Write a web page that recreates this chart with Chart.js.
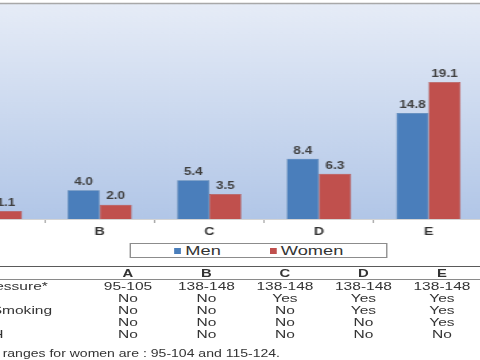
<!DOCTYPE html>
<html>
<head>
<meta charset="utf-8">
<script src="https://cdn.jsdelivr.net/npm/chart.js@4/dist/chart.umd.min.js"></script>
<style>
  html, body { margin: 0; padding: 0; background: #fff; width: 480px; height: 360px; overflow: hidden; }
  /* the source picture is stretched sideways, so the whole page is too */
  #stage { position: absolute; left: 0; top: 0; width: 356px; height: 360px;
           transform: scaleX(1.35); transform-origin: 0 0;
           font-family: "Liberation Sans", Arial, sans-serif; color: #333; }
  #wrap { position: absolute; left: -48.5px; top: 0; width: 406px; height: 241px; }
  #legend { position: absolute; left: 96.3px; top: 243px; width: 188.5px; height: 13px;
            border: 1px solid #8c8c8c; background: #fff;
            display: flex; justify-content: center; align-items: center; gap: 36px;
            font-size: 13.5px; line-height: 13px; color: #333; }
  #legend span.sw { display: inline-block; width: 5px; height: 6px; margin-right: 3.5px; vertical-align: 1px; }
  .rule { position: absolute; left: 0; width: 356px; }
  .cell { position: absolute; width: 56px; margin-left: -28px; text-align: center;
          font-size: 11.5px; line-height: 12px; white-space: nowrap; }
  .head { font-weight: bold; font-size: 11px; }
  .rowlabel { position: absolute; left: -47.7px; font-size: 11.5px; line-height: 12px; white-space: nowrap; }
  #note { position: absolute; right: 148.6px; top: 348px; font-size: 10.4px; line-height: 12px; white-space: nowrap; }
</style>
</head>
<body>
<div id="stage">
  <div id="wrap"><canvas id="chart" width="406" height="241"></canvas></div>
  <div id="legend"></div>
  <div id="table"></div>
  <div id="note"></div>
</div>
<script>
const categories = ["A", "B", "C", "D", "E"];
const menValues = [2.2, 4.0, 5.4, 8.4, 14.8];
const womenValues = [1.1, 2.0, 3.5, 6.3, 19.1];
const seriesNames = ["Men", "Women"];
const seriesColors = ["#4a7ebb", "#c0504d"];

const rowLabels = ["Blood Pressure*", "Diabetes", "Current Smoking", "Lipids", "ECG-LVH"];
const tableRows = [
    ["95-105", "138-148", "138-148", "138-148", "138-148"],
    ["No", "No", "Yes", "Yes", "Yes"],
    ["No", "No", "No", "Yes", "Yes"],
    ["No", "No", "No", "No", "Yes"],
    ["No", "No", "No", "No", "No"]
];
const footnote = "* Systolic blood pressure ranges for women are : 95-104 and 115-124.";

// gradient fill + top border of the plot area
const plotBackground = {
    id: "plotBackground",
    beforeDraw(chart) {
        const ctx = chart.ctx;
        const a = chart.chartArea;
        const g = ctx.createLinearGradient(0, a.top, 0, a.bottom);
        g.addColorStop(0, "#e6ecf7");
        g.addColorStop(1, "#b1c6e7");
        ctx.save();
        ctx.fillStyle = g;
        ctx.fillRect(a.left, a.top, a.right - a.left, a.bottom - a.top);
        ctx.strokeStyle = "#a8a8a8";
        ctx.lineWidth = 1.5;
        ctx.beginPath();
        ctx.moveTo(a.left, a.top - 0.5);
        ctx.lineTo(a.right, a.top - 0.5);
        ctx.stroke();
        ctx.restore();
    }
};

// value above every bar
const valueLabels = {
    id: "valueLabels",
    afterDatasetsDraw(chart) {
        const ctx = chart.ctx;
        ctx.save();
        ctx.font = 'bold 10px "Liberation Sans", Arial, sans-serif';
        ctx.fillStyle = "#404040";
        ctx.textAlign = "center";
        ctx.textBaseline = "bottom";
        chart.data.datasets.forEach((ds, i) => {
            chart.getDatasetMeta(i).data.forEach((bar, j) => {
                ctx.fillText(ds.data[j].toFixed(1), bar.x, bar.y - 3);
            });
        });
        ctx.restore();
    }
};

let chart;

function initChart() {
    const ctx = document.getElementById("chart").getContext("2d");

    chart = new Chart(ctx, {
        type: "bar",
        data: {
            labels: categories,
            datasets: [
                { label: seriesNames[0], data: menValues, backgroundColor: seriesColors[0],
                  borderColor: "#41709f", borderWidth: 0.5 },
                { label: seriesNames[1], data: womenValues, backgroundColor: seriesColors[1],
                  borderColor: "#a94642", borderWidth: 0.5 }
            ]
        },
        options: {
            responsive: false,
            animation: false,
            layout: { padding: { top: 4, left: 0, right: 0, bottom: 0 } },
            datasets: { bar: { categoryPercentage: 0.585, barPercentage: 1.0 } },
            plugins: { legend: { display: false }, tooltip: { enabled: false } },
            scales: {
                x: {
                    afterFit: (axis) => { axis.height = 22; },
                    border: { display: true, color: "#d4d4d4" },
                    grid: { offset: true, drawOnChartArea: false, tickLength: 4, color: "#a6a6a6" },
                    ticks: { padding: 3, color: "#333",
                             font: { family: '"Liberation Sans", Arial, sans-serif', size: 10.5, weight: "bold" } }
                },
                y: { display: false, min: 0, max: 30 }
            }
        },
        plugins: [plotBackground, valueLabels]
    });
}

function buildLegend() {
    const box = document.getElementById("legend");
    seriesNames.forEach((name, i) => {
        const item = document.createElement("div");
        const sw = document.createElement("span");
        sw.className = "sw";
        sw.style.background = seriesColors[i];
        item.appendChild(sw);
        item.appendChild(document.createTextNode(name));
        box.appendChild(item);
    });
}

function buildTable() {
    const t = document.getElementById("table");
    const colX0 = 94.8, colStep = 58.15, headY = 266.5, rowY0 = 280, rowStep = 12.1;

    let r1 = document.createElement("div");
    r1.className = "rule";
    r1.style.top = "266px";
    r1.style.borderTop = "1.5px solid #5a5a5a";
    t.appendChild(r1);
    let r2 = document.createElement("div");
    r2.className = "rule";
    r2.style.top = "278.5px";
    r2.style.borderTop = "1px solid #8a8a8a";
    t.appendChild(r2);

    categories.forEach((c, i) => {
        let d = document.createElement("div");
        d.className = "cell head";
        d.style.left = (colX0 + i * colStep) + "px";
        d.style.top = headY + "px";
        d.innerText = c;
        t.appendChild(d);
    });

    tableRows.forEach((row, r) => {
        let lab = document.createElement("div");
        lab.className = "rowlabel";
        lab.style.top = (rowY0 + r * rowStep) + "px";
        lab.innerText = rowLabels[r];
        t.appendChild(lab);
        row.forEach((v, i) => {
            let d = document.createElement("div");
            d.className = "cell";
            d.style.left = (colX0 + i * colStep) + "px";
            d.style.top = (rowY0 + r * rowStep) + "px";
            d.innerText = v;
            t.appendChild(d);
        });
    });

    document.getElementById("note").innerText = footnote;
}

initChart();
buildLegend();
buildTable();
</script>
</body>
</html>
